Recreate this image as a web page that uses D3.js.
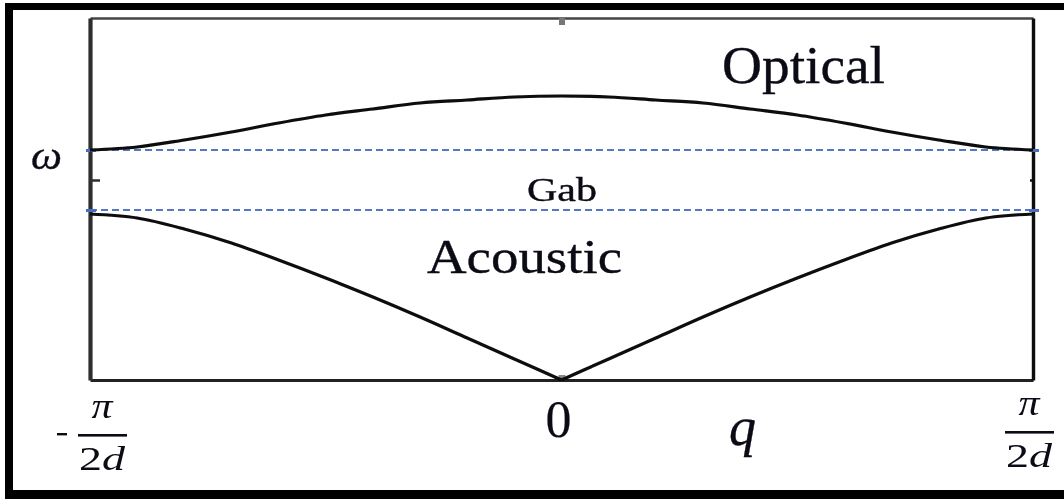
<!DOCTYPE html>
<html>
<head>
<meta charset="utf-8">
<script src="https://cdn.jsdelivr.net/npm/d3@7/dist/d3.min.js"></script>
<style>
  html, body { margin: 0; padding: 0; background: #fff; }
  svg { display: block; }
</style>
</head>
<body>
<svg id="chart" width="1064" height="499"></svg>
<script>
// Wave vector q, in units of pi/2d, across the first Brillouin zone
const qValues = [-1.0, -0.9, -0.8, -0.7, -0.6, -0.5, -0.4, -0.3, -0.2, -0.1, 0.0,
                  0.1,  0.2,  0.3,  0.4,  0.5,  0.6,  0.7,  0.8,  0.9, 1.0];

// Frequency omega (arbitrary units) of the two branches
const opticalOmega  = [2.30, 2.33, 2.40, 2.48, 2.57, 2.65, 2.71, 2.77, 2.80, 2.83, 2.84,
                       2.83, 2.80, 2.77, 2.71, 2.65, 2.57, 2.48, 2.40, 2.33, 2.30];
const acousticOmega = [1.66, 1.62, 1.51, 1.37, 1.20, 1.02, 0.83, 0.63, 0.42, 0.21, 0.00,
                       0.21, 0.42, 0.63, 0.83, 1.02, 1.20, 1.37, 1.51, 1.62, 1.66];

// Band edges bounding the forbidden gap
const gapLevels = [2.30, 1.70];

// Axis ticks (unlabelled marks) and the q tick labels
const qTicks = [0];
const omegaTicks = [2.0];
const qTickLabels = ["-π/2d", "0", "π/2d"];

const SERIF = "'Liberation Serif', 'Times New Roman', Times, serif";
const INK = "#0b0b16";

const svg = d3.select("#chart");
const W = 1064, H = 499;

const x = d3.scaleLinear().domain([-1, 1]).range([90, 1033]);
const y = d3.scaleLinear().domain([0, 3.62]).range([380, 18]);

// soft edge on the drawn lines
const defs = svg.append("defs");
defs.append("filter").attr("id", "soft")
  .append("feGaussianBlur").attr("stdDeviation", 0.5);

// outer black border
svg.append("rect").attr("x", 5).attr("y", 3).attr("width", W - 5).attr("height", 7).attr("fill", "#000");
svg.append("rect").attr("x", 5).attr("y", 3).attr("width", 8).attr("height", H - 3).attr("fill", "#000");
svg.append("rect").attr("x", 5).attr("y", 490).attr("width", W - 5).attr("height", 9).attr("fill", "#000");

const plot = svg.append("g").attr("filter", "url(#soft)");

// frame built from the four axes, ticks pointing inward, no numeric labels
function styleAxis(g, color, width) {
  g.select(".domain").attr("stroke", color).attr("stroke-width", width);
  g.selectAll(".tick line").attr("stroke", color).attr("stroke-width", 2.5);
  g.selectAll(".tick text").remove();
}
plot.append("g").attr("transform", `translate(0,${y(3.62)})`)
  .call(d3.axisTop(x).tickValues(qTicks).tickSize(-7).tickSizeOuter(0))
  .call(g => { styleAxis(g, "#444", 2.6); g.selectAll(".tick line").attr("stroke", "#777").attr("stroke-width", 6); });
plot.append("g").attr("transform", `translate(0,${y(0)})`)
  .call(d3.axisBottom(x).tickValues(qTicks).tickSize(-5).tickSizeOuter(0))
  .call(g => { styleAxis(g, "#222", 2.8); g.selectAll(".tick line").attr("stroke", "#888").attr("stroke-width", 7); });
plot.append("g").attr("transform", `translate(${x(-1)},0)`)
  .call(d3.axisLeft(y).tickValues(omegaTicks).tickSize(-10).tickSizeOuter(0))
  .call(g => styleAxis(g, "#2e2e2e", 4.2));
plot.append("g").attr("transform", `translate(${x(1)},0)`)
  .call(d3.axisRight(y).tickValues(omegaTicks).tickSize(-3).tickSizeOuter(0))
  .call(g => styleAxis(g, "#0e0e0e", 3.4));

// gap boundaries
plot.selectAll("line.gap").data(gapLevels).join("line")
  .attr("class", "gap")
  .attr("x1", x(-1)).attr("x2", x(1) + 3)
  .attr("y1", d => y(d)).attr("y2", d => y(d))
  .attr("stroke", "#5577c4").attr("stroke-width", 1.8)
  .attr("stroke-dasharray", "7,4");
plot.selectAll("rect.gapEnd").data(gapLevels.flatMap(v => [[-1, v], [1, v]])).join("rect")
  .attr("class", "gapEnd")
  .attr("x", d => x(d[0]) - 4).attr("y", d => y(d[1]) - 1)
  .attr("width", 10).attr("height", 3)
  .attr("fill", "#4a6cc2");

// dispersion branches
const pts = (vals) => qValues.map((q, i) => [q, vals[i]]);
const line = d3.line().x(d => x(d[0])).y(d => y(d[1])).curve(d3.curveMonotoneX);

plot.append("path").datum(pts(opticalOmega))
  .attr("d", line).attr("fill", "none").attr("stroke", "#0a0a0a").attr("stroke-width", 3.2);

// acoustic branch drawn as two halves so the cusp at q = 0 stays sharp
const acoustic = pts(acousticOmega);
const mid = qValues.indexOf(0);
[acoustic.slice(0, mid + 1), acoustic.slice(mid)].forEach(seg => {
  plot.append("path").datum(seg)
    .attr("d", line).attr("fill", "none").attr("stroke", "#0a0a0a").attr("stroke-width", 3.2);
});

function label(px, py, size, str) {
  return svg.append("text").attr("x", px).attr("y", py)
    .attr("font-family", SERIF).attr("font-size", size).attr("fill", INK)
    .attr("stroke", INK).attr("stroke-width", 0.35)
    .text(str);
}

// branch and gap labels
label(722, 83, 52, "Optical").attr("textLength", 163).attr("lengthAdjust", "spacingAndGlyphs");
label(427, 273, 48, "Acoustic").attr("textLength", 195).attr("lengthAdjust", "spacingAndGlyphs");
label(527, 201, 33, "Gab").attr("textLength", 70).attr("lengthAdjust", "spacingAndGlyphs");

// axis titles
label(31, 169, 40, "ω").attr("font-style", "italic")
  .attr("textLength", 31).attr("lengthAdjust", "spacingAndGlyphs");
label(729, 445, 54, "q").attr("font-style", "italic");

// q tick labels: zero and the two zone-boundary fractions
label(x(0) - 3, 437, 52, qTickLabels[1]).attr("text-anchor", "middle").attr("stroke-width", 0.2);

function fraction(cx, top, sign) {
  const g = svg.append("g");
  if (sign) {
    g.append("rect").attr("x", cx - 45).attr("y", top + 31).attr("width", 10).attr("height", 2.4).attr("fill", INK);
  }
  g.append("text").attr("x", cx).attr("y", top + 16)
    .attr("font-family", SERIF).attr("fill", INK)
    .attr("font-size", 36).attr("font-style", "italic").attr("text-anchor", "middle")
    .attr("textLength", 21).attr("lengthAdjust", "spacingAndGlyphs")
    .text("π");
  g.append("rect").attr("x", cx - 24).attr("y", top + 32).attr("width", 49).attr("height", 2.6).attr("fill", INK);
  const t = g.append("text").attr("x", cx).attr("y", top + 68)
    .attr("font-family", SERIF).attr("fill", INK)
    .attr("font-size", 33).attr("text-anchor", "middle")
    .attr("textLength", 46).attr("lengthAdjust", "spacingAndGlyphs");
  t.append("tspan").text("2");
  t.append("tspan").attr("font-style", "italic").text("d");
}
// labels read "-π/2d" and "π/2d"
fraction(102, 402, qTickLabels[0].startsWith("-"));
fraction(1029, 399, qTickLabels[2].startsWith("-"));
</script>
</body>
</html>
